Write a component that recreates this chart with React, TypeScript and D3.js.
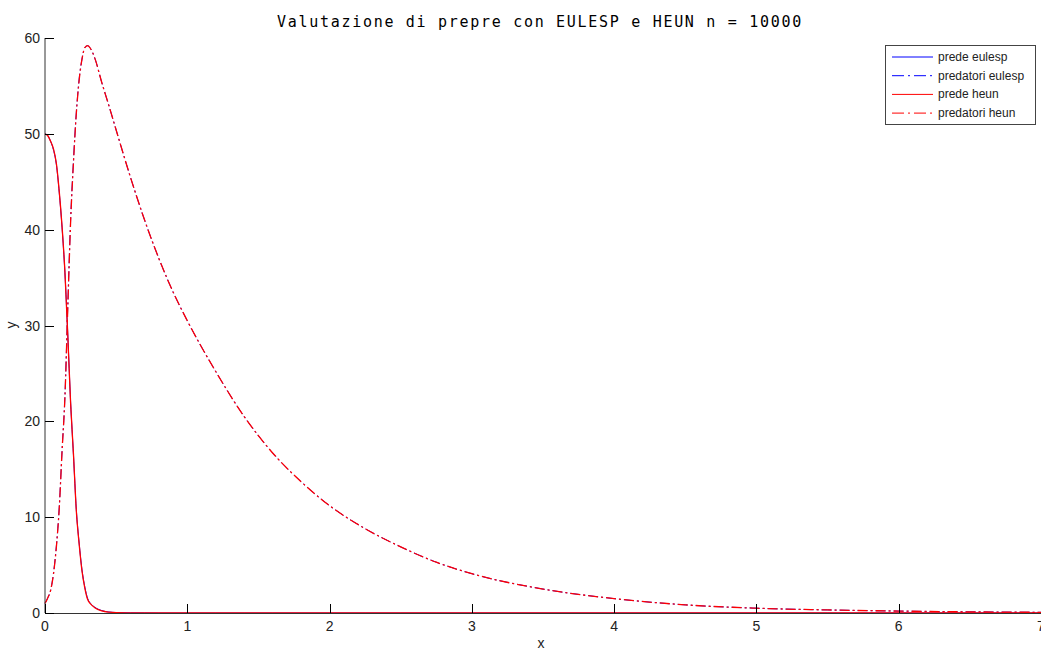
import React from "react";
import * as d3 from "d3";

// tempo (x) e valori
const tempo = [0, 0.02, 0.04, 0.06, 0.08, 0.1, 0.12, 0.14, 0.16, 0.18, 0.2, 0.22, 0.24, 0.26, 0.28, 0.3, 0.32, 0.35, 0.4, 0.45, 0.5, 0.6, 0.7, 0.8, 0.9, 1.0, 1.2, 1.4, 1.6, 1.8, 2.0, 2.25, 2.5, 2.75, 3.0, 3.5, 4.0, 4.5, 5.0, 5.5, 6.0, 6.5, 7.0];

const predeEulesp = [50, 49.8, 49.2, 48.3, 46.8, 43.9, 40.2, 35.5, 29.1, 22.0, 16.5, 10.8, 7.3, 4.5, 2.7, 1.5, 1.0, 0.6, 0.25, 0.1, 0.05, 0.02, 0.01, 0, 0, 0, 0, 0, 0, 0, 0, 0, 0, 0, 0, 0, 0, 0, 0, 0, 0, 0, 0];
const predatoriEulesp = [1.0, 1.6, 2.4, 4.2, 7.0, 11.0, 17.0, 22.6, 32.0, 41.0, 47.2, 52.2, 55.7, 57.8, 59.0, 59.2, 58.9, 57.9, 55.3, 52.9, 50.4, 45.5, 41.0, 37.0, 33.5, 30.5, 25.2, 20.5, 16.7, 13.7, 11.2, 8.8, 6.9, 5.3, 4.1, 2.5, 1.5, 0.85, 0.5, 0.32, 0.2, 0.12, 0.07];
const predeHeun = [50, 49.8, 49.2, 48.4, 46.9, 44.0, 40.3, 35.6, 29.0, 21.9, 16.6, 10.7, 7.2, 4.4, 2.6, 1.4, 0.95, 0.55, 0.22, 0.09, 0.04, 0.02, 0.01, 0, 0, 0, 0, 0, 0, 0, 0, 0, 0, 0, 0, 0, 0, 0, 0, 0, 0, 0, 0];
const predatoriHeun = [1.0, 1.6, 2.4, 4.1, 6.9, 10.9, 16.9, 22.5, 31.8, 40.8, 47.0, 52.1, 55.6, 57.8, 59.0, 59.2, 58.9, 57.9, 55.3, 52.9, 50.4, 45.5, 41.0, 37.0, 33.5, 30.5, 25.2, 20.5, 16.7, 13.7, 11.2, 8.8, 6.9, 5.3, 4.1, 2.5, 1.5, 0.85, 0.5, 0.32, 0.2, 0.12, 0.07];

const xTicks = [0, 1, 2, 3, 4, 5, 6, 7];
const yTicks = [0, 10, 20, 30, 40, 50, 60];

const legendLabels = ["prede eulesp", "predatori eulesp", "prede heun", "predatori heun"];

const W = 1041;
const H = 651;
const left = 45, right = 1041, top = 38, bottom = 613;
const dashDot = "10,3,2,3";

export default function App() {
  const x = d3.scaleLinear().domain([0, 7]).range([left, right]);
  const y = d3.scaleLinear().domain([0, 60]).range([bottom, top]);

  const line = (vals: number[]) =>
    d3.line<number>()
      .x((_, i) => x(tempo[i]))
      .y((d) => y(d))
      .curve(d3.curveMonotoneX)(vals) || "";

  const series = [
    { vals: predeEulesp, color: "#0000ff", dash: undefined, w: 1 },
    { vals: predatoriEulesp, color: "#0000ff", dash: dashDot, w: 1 },
    { vals: predeHeun, color: "#ff0000", dash: undefined, w: 1.3 },
    { vals: predatoriHeun, color: "#ff0000", dash: dashDot, w: 1.3 },
  ];

  const axisFont = "'Liberation Sans', Arial, sans-serif";

  return (
    <svg width={W} height={H} style={{ position: "absolute", left: 0, top: 0, display: "block", background: "#fff" }}>
      <text x={540} y={27} textAnchor="middle" fontFamily="'DejaVu Sans Mono', monospace" fontSize={15} letterSpacing={1.7} fill="#000">
        Valutazione di prepre con EULESP e HEUN n = 10000
      </text>

      {series.map((s, i) => (
        <path key={i} d={line(s.vals)} fill="none" stroke={s.color} strokeWidth={s.w} strokeDasharray={s.dash} />
      ))}

      {/* assi */}
      <line x1={left} x2={left} y1={top} y2={bottom} stroke="#333" strokeWidth={1} />
      <line x1={left} x2={right} y1={bottom + 0.5} y2={bottom + 0.5} stroke="#333" strokeWidth={1} />
      {yTicks.map((t) => (
        <g key={t}>
          <line x1={left} x2={left + 9} y1={Math.round(y(t)) + 0.5} y2={Math.round(y(t)) + 0.5} stroke="#000" />
          <text x={40} y={y(t) + 5} textAnchor="end" fontFamily={axisFont} fontSize={14} fill="#222">{t}</text>
        </g>
      ))}
      {xTicks.map((t) => (
        <g key={t}>
          <line x1={Math.round(x(t)) + 0.5} x2={Math.round(x(t)) + 0.5} y1={bottom} y2={bottom - 9} stroke="#000" />
          <text x={x(t)} y={631} textAnchor="middle" fontFamily={axisFont} fontSize={14} fill="#222">{t}</text>
        </g>
      ))}
      <text x={541} y={648} textAnchor="middle" fontFamily={axisFont} fontSize={14} fill="#222">x</text>
      <text transform="translate(16,325) rotate(-90)" textAnchor="middle" fontFamily={axisFont} fontSize={14} fill="#222">y</text>

      {/* legenda */}
      <rect x={885.5} y={45.5} width={150} height={79} fill="#fff" stroke="#444" strokeWidth={1} />
      {legendLabels.map((lab, i) => {
        const s = series[i];
        const ly = 57 + i * 18.7;
        return (
          <g key={lab}>
            <line x1={892} x2={933} y1={ly} y2={ly} stroke={s.color} strokeWidth={1} strokeDasharray={s.dash ? "12,4,2,4" : undefined} />
            <text x={938} y={ly + 4} fontFamily={axisFont} fontSize={12} fill="#222">{lab}</text>
          </g>
        );
      })}
    </svg>
  );
}
